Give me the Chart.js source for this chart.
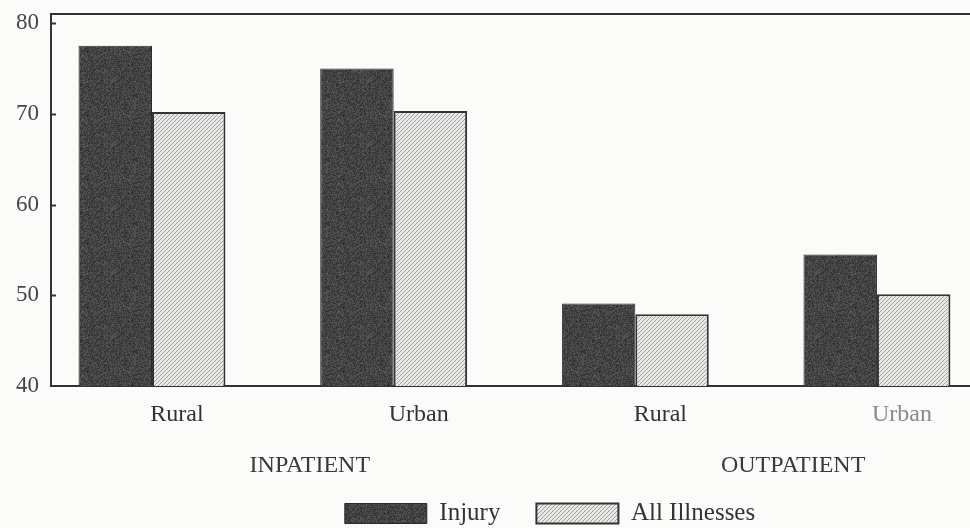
<!DOCTYPE html>
<html lang="en">

<head>
    <meta charset="UTF-8">
    <title>Injury vs All Illnesses</title>
    <script src="https://cdn.jsdelivr.net/npm/chart.js"></script>
    <style>
        html, body { margin: 0; padding: 0; background: #fbfbf9; }
    </style>
</head>

<body>
    <canvas id="chart" width="970" height="528"></canvas>

    <script>
        // data
        const categories = ['Rural', 'Urban', 'Rural', 'Urban'];
        const groups = ['INPATIENT', 'OUTPATIENT'];
        const injury = [77.5, 75.0, 49.1, 54.5];
        const allIllnesses = [70.2, 70.3, 47.9, 50.1];
        const yTicks = [40, 50, 60, 70, 80];

        const serif = "'Liberation Serif', 'DejaVu Serif', serif";
        const ink = '#333';
        const labelShift = 25;   // printed labels sit a little right of the bar pairs
        const groupShift = 37;
        const legendShift = { x: 65, y: 8 };

        // mottled dark fill for the injury bars
        function noisePattern() {
            const c = document.createElement('canvas');
            c.width = c.height = 64;
            const g = c.getContext('2d');
            const img = g.createImageData(64, 64);
            let seed = 12345;
            const rnd = () => (seed = (seed * 16807) % 2147483647) / 2147483647;
            for (let i = 0; i < 64 * 64; i++) {
                const v = 45 + Math.floor(rnd() * 45);
                img.data[i * 4] = v;
                img.data[i * 4 + 1] = v;
                img.data[i * 4 + 2] = v;
                img.data[i * 4 + 3] = 255;
            }
            g.putImageData(img, 0, 0);
            return g.createPattern(c, 'repeat');
        }

        // fine diagonal hatch for all illnesses
        function hatchPattern() {
            const c = document.createElement('canvas');
            c.width = c.height = 4;
            const g = c.getContext('2d');
            g.fillStyle = '#e8e8e6';
            g.fillRect(0, 0, 4, 4);
            g.strokeStyle = '#a0a0a0';
            g.lineWidth = 1;
            g.beginPath();
            g.moveTo(-1, 5); g.lineTo(5, -1);
            g.moveTo(-1, 1); g.lineTo(1, -1);
            g.moveTo(3, 5); g.lineTo(5, 3);
            g.stroke();
            return g.createPattern(c, 'repeat');
        }

        const framePlugin = {
            id: 'frame',
            afterLayout(chart) {
                const lg = chart.legend;
                lg.left += legendShift.x;
                lg.right += legendShift.x;
                lg.top += legendShift.y;
                lg.bottom += legendShift.y;
            },
            afterDraw(chart) {
                const { ctx, chartArea: a, scales: { x, y } } = chart;
                ctx.save();
                ctx.strokeStyle = ink;
                ctx.lineWidth = 2;
                ctx.beginPath();
                ctx.moveTo(a.left - 1, a.top);
                ctx.lineTo(a.right, a.top);
                // inward tick marks on the value axis
                yTicks.slice(1).forEach(v => {
                    const py = Math.round(y.getPixelForValue(v)) + 0.5;
                    ctx.moveTo(a.left, py);
                    ctx.lineTo(a.left + 5, py);
                });
                ctx.stroke();

                ctx.fillStyle = '#3a3a3a';
                ctx.font = '24px ' + serif;
                ctx.textAlign = 'center';
                ctx.textBaseline = 'middle';
                groups.forEach((g, i) => {
                    const px = x.getPixelForValue(i * 2 + 0.5) + groupShift;
                    ctx.fillText(g, px, a.bottom + 80);
                });
                ctx.restore();
            }
        };

        const points = vals => vals.map((v, i) => ({ x: i, y: v }));

        new Chart(document.getElementById('chart'), {
            type: 'bar',
            data: {
                datasets: [{
                    label: 'Injury',
                    data: points(injury),
                    backgroundColor: noisePattern(),
                    borderColor: '#2a2a2a',
                    borderWidth: 1
                }, {
                    label: 'All Illnesses',
                    data: points(allIllnesses),
                    backgroundColor: hatchPattern(),
                    borderColor: ink,
                    borderWidth: 2
                }]
            },
            options: {
                responsive: false,
                animation: false,
                categoryPercentage: 0.608,
                barPercentage: 1,
                layout: { padding: { top: 14, right: 0, left: 0, bottom: 0 } },
                scales: {
                    x: {
                        type: 'linear',
                        offset: false,
                        min: -0.418,
                        max: 3.385,
                        grid: { display: false },
                        border: { display: true, color: ink, width: 2 },
                        afterBuildTicks: s => { s.ticks = categories.map((_, i) => ({ value: i })); },
                        afterFit: s => { s.height = 71; },
                        ticks: {
                            autoSkip: false,
                            maxRotation: 0,
                            padding: 6,
                            labelOffset: labelShift,
                            font: { family: serif, size: 24 },
                            color: c => c.index === 3 ? '#8a8a8a' : ink,
                            callback: (v, i) => categories[i]
                        }
                    },
                    y: {
                        min: 40,
                        max: 81,
                        grid: { display: false, drawTicks: false },
                        border: { display: true, color: ink, width: 2 },
                        afterBuildTicks: s => { s.ticks = yTicks.map(v => ({ value: v })); },
                        afterFit: s => {
                            s.width = 51;
                            s.paddingTop = 0;
                            s.paddingBottom = 0;
                        },
                        ticks: {
                            padding: 12,
                            font: { family: serif, size: 23 },
                            color: '#444'
                        }
                    }
                },
                plugins: {
                    legend: {
                        position: 'bottom',
                        labels: {
                            boxWidth: 82,
                            boxHeight: 20,
                            padding: 36,
                            color: ink,
                            font: { family: serif, size: 25 }
                        }
                    },
                    tooltip: { enabled: false }
                }
            },
            plugins: [framePlugin]
        });
    </script>
</body>

</html>
